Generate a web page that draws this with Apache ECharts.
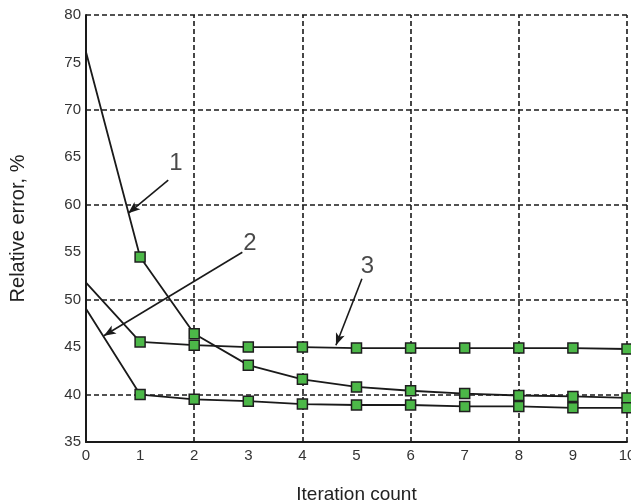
<!DOCTYPE html>
<html>
<head>
<meta charset="utf-8">
<script src="https://cdn.jsdelivr.net/npm/echarts@6/dist/echarts.min.js"></script>
<style>html,body{margin:0;padding:0;background:#fff}#c{width:631px;height:504px}</style>
</head>
<body>
<div id="c"></div>
<script>
const iterations = [0, 1, 2, 3, 4, 5, 6, 7, 8, 9, 10];
const curve1 = [76.1, 54.5, 46.4, 43.1, 41.6, 40.8, 40.4, 40.1, 39.9, 39.8, 39.65];
const curve2 = [49.05, 40.0, 39.5, 39.3, 39.0, 38.9, 38.9, 38.75, 38.75, 38.6, 38.6];
const curve3 = [51.8, 45.55, 45.2, 45.0, 45.0, 44.9, 44.9, 44.9, 44.9, 44.9, 44.8];
const yTicks = [35, 40, 45, 50, 55, 60, 65, 70, 75, 80];
const xTicks = [0, 1, 2, 3, 4, 5, 6, 7, 8, 9, 10];
const gridY = [40, 50, 60, 70, 80];
const gridX = [2, 4, 6, 8, 10];
// annotation labels and arrows (data coordinates)
const annLabels = ['1', '2', '3'];
const annLabelPos = [[1.66, 64.4], [3.03, 55.9], [5.2, 53.5]];
const annFrom = [[1.52, 62.6], [2.89, 55.0], [5.10, 52.2]];
const annTo = [[0.78, 59.1], [0.33, 46.2], [4.62, 45.2]];

const font = 'Liberation Sans, Arial, sans-serif';
const chart = echarts.init(document.getElementById('c'), null, {renderer: 'canvas'});

function mk(name, vals) {
  return {
    name: name,
    type: 'line',
    data: iterations.map((x, i) => i === 0 ? {value: [x, vals[i]], symbol: 'none'} : [x, vals[i]]),
    symbol: 'rect',
    symbolSize: 10,
    showAllSymbol: true,
    lineStyle: {color: '#1a1a1a', width: 1.8},
    itemStyle: {color: '#4cb848', borderColor: '#1f1f1f', borderWidth: 1.5},
    z: 5,
    animation: false
  };
}

const gridLines = gridY.map(v => ({yAxis: v})).concat(gridX.map(v => ({xAxis: v})));

const arrowLines = annFrom.map((f, i) => [
  {coord: f, symbol: 'none'},
  {coord: annTo[i], symbol: 'arrow'}
]);

const option = {
  backgroundColor: '#fff',
  animation: false,
  grid: {left: 86, right: 4, top: 15, bottom: 62, containLabel: false, outerBoundsMode: 'none'},
  xAxis: {
    type: 'value', min: 0, max: 10, interval: 1,
    name: 'Iteration count', nameLocation: 'middle', nameGap: 43,
    nameTextStyle: {fontFamily: font, fontSize: 19, color: '#222'},
    axisLine: {show: true, lineStyle: {color: '#1a1a1a', width: 2}},
    axisTick: {show: false},
    axisLabel: {fontFamily: font, fontSize: 15, color: '#333', margin: 6,
      formatter: v => xTicks.includes(v) ? String(v) : ''},
    splitLine: {show: false}
  },
  yAxis: {
    type: 'value', min: 35, max: 80, interval: 5,
    name: 'Relative error, %', nameLocation: 'middle', nameGap: 58, nameRotate: 90,
    nameTextStyle: {fontFamily: font, fontSize: 20, color: '#222'},
    axisLine: {show: true, lineStyle: {color: '#1a1a1a', width: 2}},
    axisTick: {show: false},
    axisLabel: {fontFamily: font, fontSize: 15, color: '#333', margin: 5,
      formatter: v => yTicks.includes(v) ? String(v) : ''},
    splitLine: {show: false}
  },
  series: [
    {
      type: 'line', data: [], silent: true,
      markLine: {
        silent: true, symbol: 'none', animation: false,
        label: {show: false},
        lineStyle: {color: '#1a1a1a', type: [5, 3], width: 1.6},
        data: gridLines
      },
      z: 1
    },
    mk('1', curve1),
    mk('2', curve2),
    mk('3', curve3),
    {
      type: 'line', data: [], silent: true,
      markLine: {
        silent: true, animation: false,
        symbolSize: [7, 12],
        label: {show: false},
        lineStyle: {color: '#1a1a1a', type: 'solid', width: 1.6},
        data: arrowLines
      },
      z: 6
    },
    {
      type: 'scatter', silent: true, symbolSize: 0,
      data: annLabelPos.map((p, i) => ({value: p, name: annLabels[i]})),
      label: {show: true, position: 'inside', formatter: '{b}',
        fontFamily: font, fontSize: 24, color: '#1a1a1a'},
      z: 7
    }
  ]
};
chart.setOption(option);
</script>
</body>
</html>
